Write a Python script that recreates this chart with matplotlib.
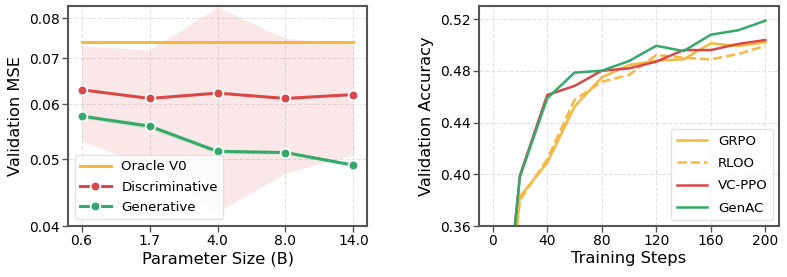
import matplotlib
matplotlib.use("Agg")
import matplotlib.pyplot as plt
from matplotlib.ticker import FixedLocator, NullLocator, FormatStrFormatter
import numpy as np

# ---- Left panel data ----
sizes = ["0.6", "1.7", "4.0", "8.0", "14.0"]
oracle_v0 = [0.074, 0.074, 0.074, 0.074, 0.074]
disc_mean = [0.0630, 0.0612, 0.0623, 0.0612, 0.0620]
disc_upper = [0.0729, 0.0720, 0.0830, 0.0748, 0.0733]
disc_lower = [0.0531, 0.0487, 0.0419, 0.0477, 0.0507]
gen_mean = [0.0577, 0.0558, 0.0513, 0.0511, 0.0490]
gen_upper = [0.0581, 0.0563, 0.0517, 0.0514, 0.0493]
gen_lower = [0.0573, 0.0553, 0.0509, 0.0508, 0.0487]
left_yticks = [0.04, 0.05, 0.06, 0.07, 0.08]

# ---- Right panel data ----
steps = [0, 20, 40, 60, 80, 100, 120, 140, 160, 180, 200]
grpo = [0.18, 0.3827, 0.409, 0.4523, 0.475, 0.4846, 0.488, 0.489, 0.5014, 0.4993, 0.5022]
rloo = [0.18, 0.380, 0.4116, 0.4575, 0.4717, 0.4769, 0.4924, 0.4903, 0.489, 0.4931, 0.4995]
vcppo = [0.19, 0.3990, 0.4614, 0.4684, 0.4802, 0.482, 0.4872, 0.4962, 0.4962, 0.5009, 0.504]
genac = [0.19, 0.3980, 0.4588, 0.4787, 0.4802, 0.4877, 0.4995, 0.4954, 0.5081, 0.5115, 0.5189]
right_xticks = [0, 40, 80, 120, 160, 200]
right_yticks = [0.36, 0.40, 0.44, 0.48, 0.52]

YELLOW = "#F5B841"
RED = "#D94848"
GREEN = "#35A96B"
SPINE = "#555555"

plt.rcParams["font.family"] = ["DejaVu Sans"]

fig = plt.figure(figsize=(7.87, 2.77), dpi=100)
ax1 = fig.add_axes([68/787, 1-226/277, (367-68)/787, (226-6)/277])
ax2 = fig.add_axes([479/787, 1-226/277, (779-479)/787, (226-6)/277])

x = np.arange(len(sizes))

ax1.set_yscale("log")
ax1.fill_between(x, disc_lower, disc_upper, color=RED, alpha=0.12, linewidth=0)
ax1.fill_between(x, gen_lower, gen_upper, color=GREEN, alpha=0.15, linewidth=0)
ax1.plot(x, oracle_v0, color=YELLOW, lw=2.2, label="Oracle V0", zorder=3)
ax1.plot(x, disc_mean, color=RED, lw=2.2, marker="o", ms=7, mec="white", mew=1.3,
         label="Discriminative", zorder=4)
ax1.plot(x, gen_mean, color=GREEN, lw=2.2, marker="o", ms=7, mec="white", mew=1.3,
         label="Generative", zorder=4)
ax1.set_xlim(-0.2, 4.2)
ax1.set_ylim(0.04, 0.0833)
ax1.yaxis.set_major_locator(FixedLocator(left_yticks))
ax1.yaxis.set_minor_locator(NullLocator())
ax1.yaxis.set_major_formatter(FormatStrFormatter("%.2f"))
ax1.set_xticks(x)
ax1.set_xticklabels(sizes)
ax1.set_xlabel("Parameter Size (B)", fontsize=11.7, labelpad=2)
ax1.set_ylabel("Validation MSE", fontsize=11.7)
leg1 = ax1.legend(loc="lower left", fontsize=9.6, frameon=True, borderaxespad=0.5,
                  handlelength=2.3, labelspacing=0.55)
leg1.get_frame().set_edgecolor("#dddddd")

ax2.plot(steps, grpo, color=YELLOW, lw=1.8, label="GRPO")
ax2.plot(steps, rloo, color=YELLOW, lw=1.8, ls="--", label="RLOO")
ax2.plot(steps, vcppo, color=RED, lw=1.8, label="VC-PPO")
ax2.plot(steps, genac, color=GREEN, lw=1.8, label="GenAC")
ax2.set_xlim(-10, 210)
ax2.set_ylim(0.36, 0.5303)
ax2.set_xticks(right_xticks)
ax2.set_yticks(right_yticks)
ax2.yaxis.set_major_formatter(FormatStrFormatter("%.2f"))
ax2.set_xlabel("Training Steps", fontsize=11.7, labelpad=2)
ax2.set_ylabel("Validation Accuracy", fontsize=11.7)
leg2 = ax2.legend(loc="lower right", fontsize=9.6, frameon=True, borderaxespad=0.45,
                  handlelength=2.3, labelspacing=0.7)
leg2.get_frame().set_edgecolor("#dddddd")

for ax in (ax1, ax2):
    ax.grid(True, which="major", ls="--", color="#e2e2e2", lw=0.8)
    ax.set_axisbelow(True)
    for s in ax.spines.values():
        s.set_color(SPINE)
        s.set_linewidth(1.5)
    ax.tick_params(labelsize=10, color=SPINE, width=1.0, length=4, pad=2)

fig.savefig("out.png", dpi=100)
